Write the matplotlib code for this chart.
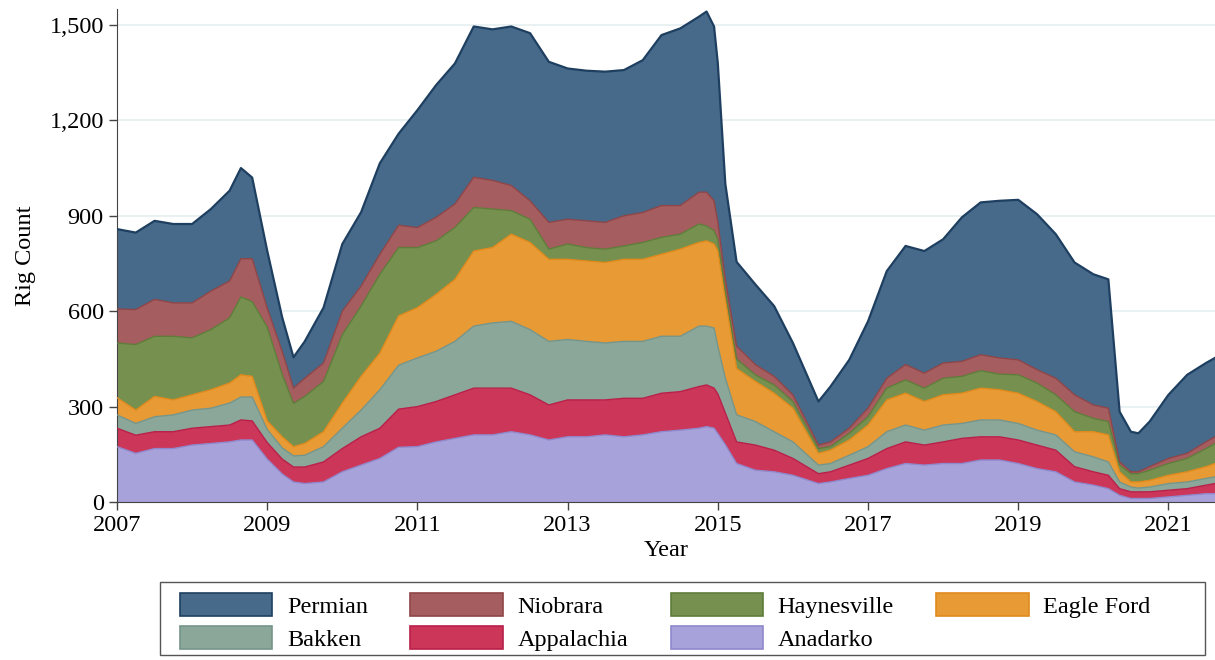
import numpy as np
import matplotlib.pyplot as plt
from matplotlib.patches import Patch, Rectangle
from matplotlib.ticker import FuncFormatter

# rig counts by basin (decimal years)
dates = [2007.0, 2007.25, 2007.5, 2007.75, 2008.0, 2008.25, 2008.5, 2008.65, 2008.8,
         2009.0, 2009.2, 2009.35, 2009.5, 2009.75, 2010.0, 2010.25, 2010.5, 2010.75,
         2011.0, 2011.25, 2011.5, 2011.75, 2012.0, 2012.25, 2012.5, 2012.75,
         2013.0, 2013.25, 2013.5, 2013.75, 2014.0, 2014.25, 2014.5, 2014.75, 2014.85,
         2014.95, 2015.0, 2015.1, 2015.25, 2015.5, 2015.75, 2016.0, 2016.34, 2016.5,
         2016.75, 2017.0, 2017.25, 2017.5, 2017.75, 2018.0, 2018.25, 2018.5, 2018.75,
         2019.0, 2019.25, 2019.5, 2019.75, 2020.0, 2020.2, 2020.35, 2020.5, 2020.6,
         2020.75, 2021.0, 2021.25, 2021.5, 2021.62]

anadarko = [174, 153, 168, 168, 179, 184, 189, 195, 195,
            135, 88, 63, 58, 63, 95, 116, 137, 172,
            174, 189, 200, 211, 211, 221, 211, 195,
            205, 205, 211, 205, 211, 221, 226, 232, 237,
            232, 215, 180, 121, 100, 95, 84, 58, 63,
            74, 84, 105, 121, 116, 121, 121, 132, 132,
            121, 105, 95, 63, 53, 42, 21, 11, 11,
            11, 16, 21, 26, 26]
appalachia = [58, 57, 53, 53, 53, 53, 53, 63, 60,
              52, 47, 47, 52, 63, 73, 89, 95, 120,
              126, 127, 137, 147, 147, 137, 126, 110,
              116, 116, 110, 121, 115, 121, 121, 131, 131,
              126, 125, 100, 68, 79, 68, 53, 31, 32,
              42, 53, 63, 68, 63, 68, 79, 73, 73,
              74, 74, 68, 48, 42, 42, 21, 21, 21,
              21, 21, 21, 27, 32]
bakken = [42, 37, 47, 53, 57, 58, 69, 72, 75,
          41, 35, 35, 37, 48, 64, 84, 121, 138,
          153, 158, 168, 195, 205, 210, 205, 200,
          190, 184, 179, 179, 179, 179, 174, 190, 185,
          189, 150, 110, 85, 74, 58, 52, 27, 26,
          31, 37, 53, 53, 47, 53, 47, 53, 53,
          52, 47, 48, 47, 47, 42, 21, 15, 12,
          15, 21, 21, 21, 21]
eagle_ford = [54, 42, 64, 47, 48, 58, 63, 70, 65,
              27, 35, 29, 37, 47, 79, 106, 115, 155,
              158, 179, 195, 236, 237, 274, 274, 258,
              252, 253, 253, 258, 258, 258, 274, 263, 268,
              264, 300, 250, 146, 126, 121, 106, 37, 42,
              48, 68, 100, 100, 90, 95, 95, 100, 95,
              95, 90, 73, 63, 79, 85, 32, 16, 19,
              21, 26, 32, 37, 42]
haynesville = [172, 206, 189, 200, 179, 189, 205, 245, 235,
               295, 196, 136, 148, 158, 215, 221, 248, 215,
               189, 168, 163, 137, 121, 74, 73, 32,
               48, 42, 42, 42, 53, 53, 47, 58, 47,
               42, 35, 25, 30, 21, 26, 21, 15, 11,
               21, 26, 37, 42, 42, 52, 53, 55, 49,
               58, 58, 53, 63, 42, 42, 21, 26, 26,
               32, 37, 42, 57, 63]
niobrara = [107, 110, 116, 105, 110, 121, 116, 120, 135,
            60, 72, 48, 57, 58, 74, 63, 63, 70,
            63, 74, 74, 95, 90, 79, 58, 84,
            78, 84, 84, 95, 94, 100, 90, 100, 106,
            94, 55, 35, 40, 32, 27, 21, 11, 15,
            16, 27, 31, 48, 47, 48, 47, 50, 51,
            47, 42, 52, 53, 42, 42, 10, 6, 6,
            11, 16, 16, 21, 21]
permian = [251, 242, 247, 248, 248, 258, 284, 285, 255,
           180, 107, 97, 116, 174, 211, 232, 286, 288,
           369, 416, 442, 474, 475, 500, 527, 505,
           474, 472, 474, 458, 479, 536, 557, 552, 568,
           548, 499, 300, 265, 252, 221, 163, 137, 174,
           215, 273, 337, 373, 384, 389, 453, 479, 494,
           503, 489, 453, 416, 411, 405, 158, 126, 121,
           142, 200, 247, 248, 248]

names = ['Anadarko', 'Appalachia', 'Bakken', 'Eagle Ford', 'Haynesville', 'Niobrara', 'Permian']
layers = [anadarko, appalachia, bakken, eagle_ford, haynesville, niobrara, permian]
fills = ['#a8a2db', '#cc3659', '#8aa79a', '#e89a35', '#76904f', '#a65d5f', '#476a8a']
edges = ['#8f88cc', '#b8204a', '#76958a', '#e08a1c', '#5f7d3a', '#8e4548', '#1e3f60']

plt.rcParams['font.family'] = ['Liberation Serif', 'DejaVu Serif']
FS = 17.5

W, H = 1215, 660
fig = plt.figure(figsize=(W / 100, H / 100), dpi=100)
ax = fig.add_axes([117 / W, 1 - 502 / H, 1 - 117 / W, 493 / H])

ax.stackplot(dates, *layers, colors=fills, linewidth=0, zorder=2)
tops = np.cumsum(np.array(layers), axis=0)
for i, top in enumerate(tops):
    ax.plot(dates, top, color=edges[i], lw=1.6 if i == 6 else 1.0, zorder=3)

ax.set_xlim(2007, 2021.62)
ax.set_ylim(0, 1550)
ax.set_xticks(range(2007, 2022, 2))
ax.set_yticks(range(0, 1501, 300))
ax.yaxis.set_major_formatter(FuncFormatter(lambda v, p: f'{int(v):,}'))
ax.tick_params(labelsize=FS, length=6, color='#444444', width=1)
ax.grid(axis='y', color='#e6eff1', lw=1.2, zorder=0)
ax.set_axisbelow(True)
for s in ['top', 'right']:
    ax.spines[s].set_visible(False)
for s in ['left', 'bottom']:
    ax.spines[s].set_color('#444444')
ax.set_xlabel('Year', fontsize=FS, labelpad=3)
ax.set_ylabel('Rig Count', fontsize=FS, labelpad=10)

# legend: fixed-width box like the original, entries in two rows
order = [6, 2, 5, 1, 4, 0, 3]
handles = [Patch(facecolor=fills[i], edgecolor=edges[i], lw=1.2) for i in order]
labels = [names[i] for i in order]
fig.legend(handles, labels, loc='upper left', bbox_to_anchor=(180 / W, 1 - 593 / H),
           ncol=4, fontsize=FS, frameon=False, handlelength=3.8,
           handleheight=1.05, handletextpad=0.6, columnspacing=1.75,
           labelspacing=0.35, borderpad=0, borderaxespad=0)
fig.patches.append(Rectangle((160 / W, 1 - 655 / H), 1045 / W, 73 / H,
                             transform=fig.transFigure, fill=False,
                             edgecolor='#555555', lw=1.0))

fig.savefig('out.png', dpi=100)
